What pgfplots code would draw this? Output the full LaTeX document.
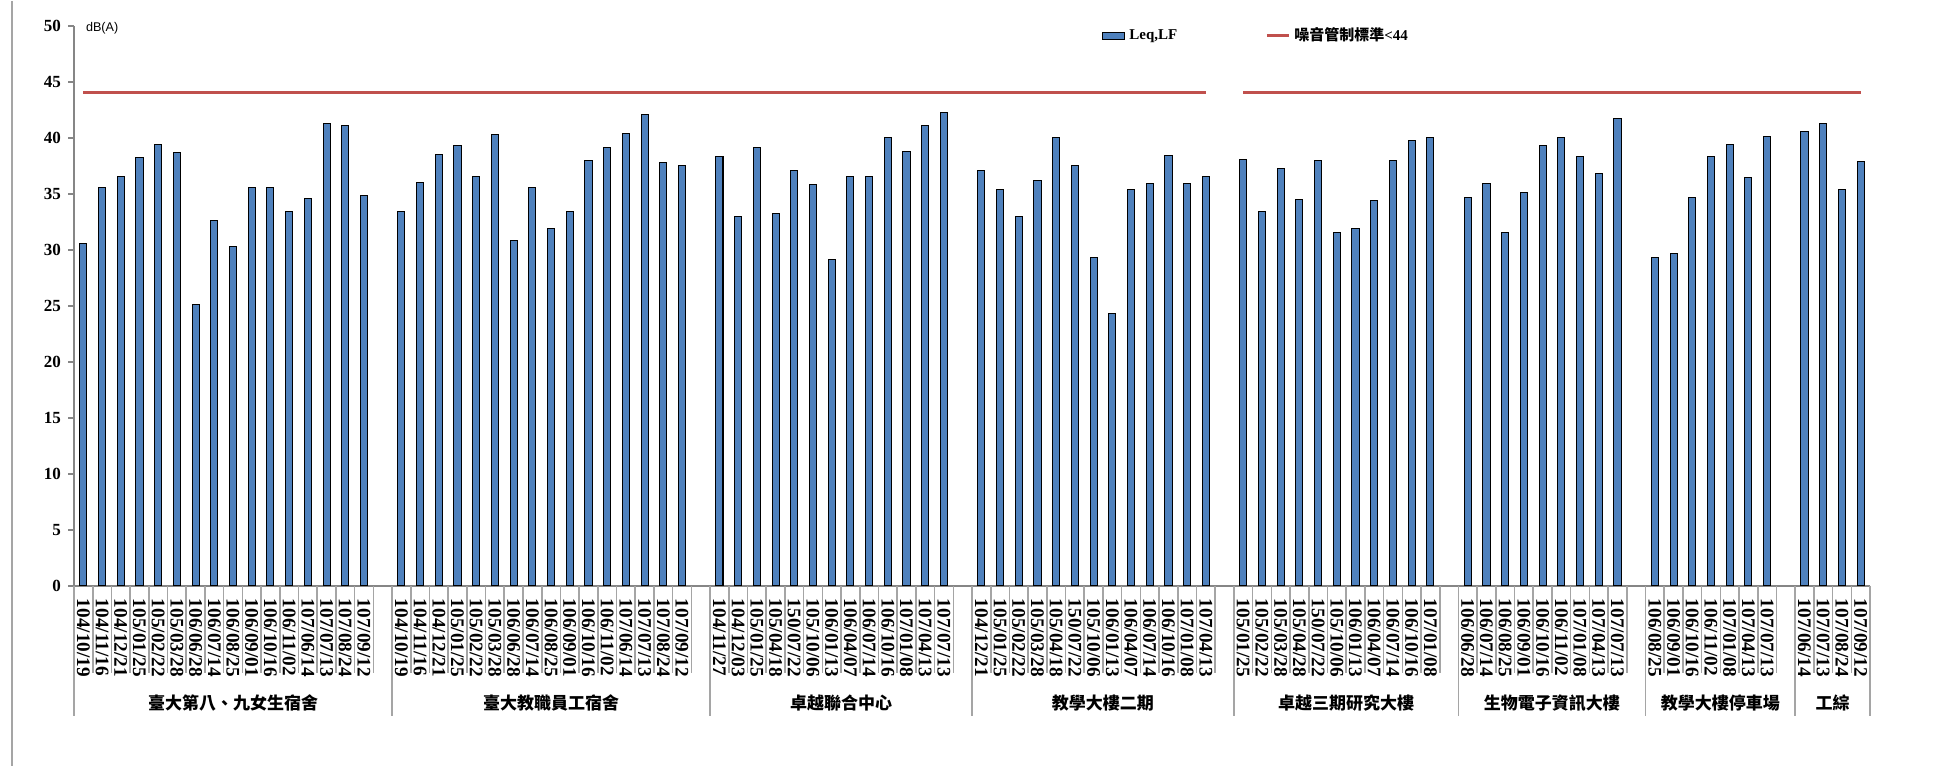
\documentclass[border=0pt]{standalone}
\usepackage{pgfplots}
\pgfplotsset{compat=1.18}
\usepackage{fontspec}
\setmainfont{Liberation Serif}
\newfontfamily\cjk{Noto Sans CJK TC}
\newfontfamily\arial{Liberation Sans}
\definecolor{barblue}{RGB}{79,129,189}
\definecolor{limred}{RGB}{192,80,77}
\definecolor{axgray}{RGB}{134,134,134}
\definecolor{sepgray}{RGB}{165,165,165}

\begin{document}
\begin{tikzpicture}
\begin{axis}[
  scale only axis, width=898pt, height=280pt,
  xmin=-0.5, xmax=95.5, ymin=0, ymax=50,
  axis x line*=bottom, axis y line*=left,
  axis line style={draw=axgray, line width=0.8pt, -},
  ytick={0,5,...,50},
  ytick style={draw=axgray, line width=0.8pt},
  tick align=outside, major tick length=3pt,
  xtick={0,...,95},
  xtick style={draw=none},
  xticklabels={
    104/10/19,104/11/16,104/12/21,105/01/25,105/02/22,105/03/28,106/06/28,106/07/14,
    106/08/25,106/09/01,106/10/16,106/11/02,107/06/14,107/07/13,107/08/24,107/09/12,{},
    104/10/19,104/11/16,104/12/21,105/01/25,105/02/22,105/03/28,106/06/28,106/07/14,
    106/08/25,106/09/01,106/10/16,106/11/02,107/06/14,107/07/13,107/08/24,107/09/12,{},
    104/11/27,104/12/03,105/01/25,105/04/18,150/07/22,105/10/06,106/01/13,106/04/07,
    106/07/14,106/10/16,107/01/08,107/04/13,107/07/13,{},
    104/12/21,105/01/25,105/02/22,105/03/28,105/04/18,150/07/22,105/10/06,106/01/13,
    106/04/07,106/07/14,106/10/16,107/01/08,107/04/13,{},
    105/01/25,105/02/22,105/03/28,105/04/28,150/07/22,105/10/06,106/01/13,106/04/07,
    106/07/14,106/10/16,107/01/08,{},
    106/06/28,106/07/14,106/08/25,106/09/01,106/10/16,106/11/02,107/01/08,107/04/13,
    107/07/13,{},
    106/08/25,106/09/01,106/10/16,106/11/02,107/01/08,107/04/13,107/07/13,{},
    107/06/14,107/07/13,107/08/24,107/09/12},
  x tick label style={rotate=-90, anchor=west, font=\bfseries\fontsize{9.6}{10}\selectfont},
  y tick label style={font=\bfseries\fontsize{8.5}{9}\selectfont},
  /pgf/number format/assume math mode=true,
  clip=false,
  legend style={at={(rel axis cs:0.569,0.982)}, anchor=west, draw=none, fill=none,
    legend columns=2, font=\bfseries\fontsize{7.5}{9}\selectfont,
    /tikz/every even column/.append style={column sep=42pt}},
]

% Leq,LF per measurement date
\addplot[ybar, bar width=0.38, fill=barblue, draw=black, line width=0.5pt,
  legend image code/.code={\draw[fill=barblue,draw=black,line width=0.5pt] (0pt,-1.75pt) rectangle (11pt,1.75pt);}]
  coordinates {
  (0,30.6) (1,35.6) (2,36.55) (3,38.2) (4,39.4) (5,38.7) (6,25.1) (7,32.6)
  (8,30.25) (9,35.6) (10,35.6) (11,33.45) (12,34.55) (13,41.3) (14,41.1) (15,34.85)
  (17,33.45) (18,36.0) (19,38.55) (20,39.3) (21,36.55) (22,40.25) (23,30.8) (24,35.6)
  (25,31.9) (26,33.45) (27,38.0) (28,39.15) (29,40.35) (30,42.1) (31,37.75) (32,37.5)
  (34,38.35) (35,33.0) (36,39.15) (37,33.2) (38,37.05) (39,35.8) (40,29.15) (41,36.55)
  (42,36.55) (43,40.0) (44,38.8) (45,41.1) (46,42.25)
  (48,37.05) (49,35.35) (50,33.0) (51,36.2) (52,40.0) (53,37.5) (54,29.3) (55,24.3)
  (56,35.35) (57,35.95) (58,38.45) (59,35.9) (60,36.55)
  (62,38.05) (63,33.45) (64,37.25) (65,34.5) (66,37.95) (67,31.5) (68,31.9) (69,34.4)
  (70,38.0) (71,39.75) (72,40.0)
  (74,34.65) (75,35.95) (76,31.5) (77,35.1) (78,39.3) (79,40.0) (80,38.35) (81,36.8)
  (82,41.7)
  (84,29.3) (85,29.65) (86,34.65) (87,38.35) (88,39.4) (89,36.45) (90,40.1)
  (92,40.6) (93,41.3) (94,35.35) (95,37.85)
  };
\addlegendentry{Leq,LF}

% limit line
\addplot[limred, line width=1.5pt, unbounded coords=jump,
  legend image code/.code={\draw[limred,line width=1.5pt] (0pt,0pt) -- (11pt,0pt);}]
  coordinates {(0,44) (60,44) (61,nan) (62,44) (95,44)};
\addlegendentry{{\cjk\bfseries 噪音管制標準}<44}

\node[anchor=west, xshift=2.5pt, yshift=-1pt, font=\arial\fontsize{6.3}{7}\selectfont] at (rel axis cs:0,1) {dB(A)};

% category separators
\pgfplotsinvokeforeach{-0.5,0.5,...,95.5}{
  \draw[sepgray, line width=0.8pt] (axis cs:#1,0) -- ([yshift=-43.5pt]axis cs:#1,0);
}
\pgfplotsinvokeforeach{-0.5,16.5,33.5,47.5,61.5,73.5,83.5,91.5,95.5}{
  \draw[sepgray, line width=0.8pt] (axis cs:#1,0) -- ([yshift=-65pt]axis cs:#1,0);
}

% group names
\begin{scope}[every node/.style={font=\cjk\bfseries\fontsize{8.5}{9}\selectfont, yshift=-58.5pt}]
\node at (axis cs:8,0) {臺大第八、九女生宿舍};
\node at (axis cs:25,0) {臺大教職員工宿舍};
\node at (axis cs:40.5,0) {卓越聯合中心};
\node at (axis cs:54.5,0) {教學大樓二期};
\node at (axis cs:67.5,0) {卓越三期研究大樓};
\node at (axis cs:78.5,0) {生物電子資訊大樓};
\node at (axis cs:87.5,0) {教學大樓停車場};
\node at (axis cs:93.5,0) {工綜};
\end{scope}

% chart-area border and page extent
\draw[sepgray, line width=0.8pt] ([shift={(-31pt,12.5pt)}]rel axis cs:0,1) -- ([shift={(-31pt,-90pt)}]rel axis cs:0,0);
\path ([shift={(-37pt,-94.5pt)}]rel axis cs:0,0) rectangle ([shift={(32.5pt,12.5pt)}]rel axis cs:1,1);
\end{axis}
\end{tikzpicture}
\end{document}
